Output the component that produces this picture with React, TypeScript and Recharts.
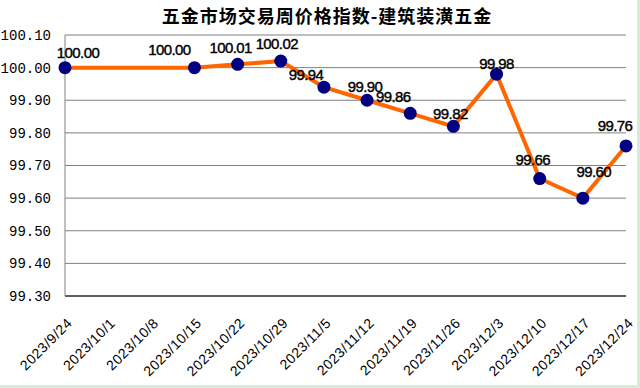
import { LineChart, Line, XAxis, YAxis, CartesianGrid, LabelList } from "recharts"

const TITLE = "五金市场交易周价格指数-建筑装潢五金"

const WEEKS = [
  "2023/9/24", "2023/10/1", "2023/10/8", "2023/10/15", "2023/10/22", "2023/10/29", "2023/11/5",
  "2023/11/12", "2023/11/19", "2023/11/26", "2023/12/3", "2023/12/10", "2023/12/17", "2023/12/24",
]

// no index published for the National Day weeks
const INDEX = [100.0, null, null, 100.0, 100.01, 100.02, 99.94, 99.9, 99.86, 99.82, 99.98, 99.66, 99.6, 99.76]

const Y_TICKS = [99.3, 99.4, 99.5, 99.6, 99.7, 99.8, 99.9, 100.0, 100.1]

// hand-placed label nudges, as in the original sheet
const LABEL_DX = [13, 0, 0, -25, -7, -4, -18, -2, -17, -3, 0, -7, 11, -11]
const LABEL_DY = [-15, 0, 0, -18, -17, -18, -13, -14, -17, -13, -11, -19, -27, -20]

const data = WEEKS.map((week, i) => ({ week, value: INDEX[i] }))

const XTick = ({ x, y, payload }: any) => (
  <text
    x={x + 8}
    y={y + 20}
    transform={`rotate(-45 ${x + 8} ${y + 20})`}
    textAnchor="end"
    fontSize={14}
    letterSpacing={0.5}
    fontFamily="'Liberation Sans', Arial, sans-serif"
    fill="#000"
  >
    {payload.value}
  </text>
)

const PointLabel = ({ x, y, index, value }: any) => {
  if (value == null) return null
  return (
    <text
      x={x + LABEL_DX[index]}
      y={y + LABEL_DY[index] + 5.5}
      textAnchor="middle"
      fontSize={15}
      letterSpacing={-0.6}
      fontFamily="'Liberation Sans', Arial, sans-serif"
      fill="#000"
      stroke="#000"
      strokeWidth={0.4}
    >
      {Number(value).toFixed(2)}
    </text>
  )
}

export default function App() {
  return (
    <div style={{ position: "absolute", left: 0, top: 0, width: 640, height: 388, background: "#d6ecd6" }}>
      <div style={{ position: "relative", width: 637, height: 385, background: "#fff" }}>
        <div
          style={{
            position: "absolute", left: 0, width: 654, top: 3, textAlign: "center",
            fontFamily: "'Noto Sans CJK SC', sans-serif", fontSize: 18, fontWeight: 700, color: "#000",
            lineHeight: "24px", letterSpacing: 1,
          }}
        >
          {TITLE}
        </div>
        <LineChart width={637} height={385} data={data} margin={{ top: 35, right: 11, left: 0, bottom: 0 }}>
          <CartesianGrid vertical={false} stroke="#808080" strokeWidth={1} />
          <XAxis
            dataKey="week"
            interval={0}
            tick={<XTick />}
            tickLine={false}
            axisLine={{ stroke: "#000" }}
            height={89}
          />
          <YAxis
            domain={[99.3, 100.1]}
            ticks={Y_TICKS}
            tickFormatter={(v: number) => v.toFixed(2)}
            tickLine={false}
            axisLine={{ stroke: "#808080" }}
            width={65}
            tickMargin={8}
            tick={{ fill: "#000", fontSize: 14, fontFamily: "'Liberation Mono', monospace" }}
          />
          <Line
            type="linear"
            dataKey="value"
            stroke="#ff6600"
            strokeWidth={4}
            connectNulls
            dot={{ r: 6.5, fill: "#000080", stroke: "none" }}
            activeDot={false}
            isAnimationActive={false}
          >
            <LabelList dataKey="value" content={<PointLabel />} />
          </Line>
        </LineChart>
      </div>
    </div>
  )
}
